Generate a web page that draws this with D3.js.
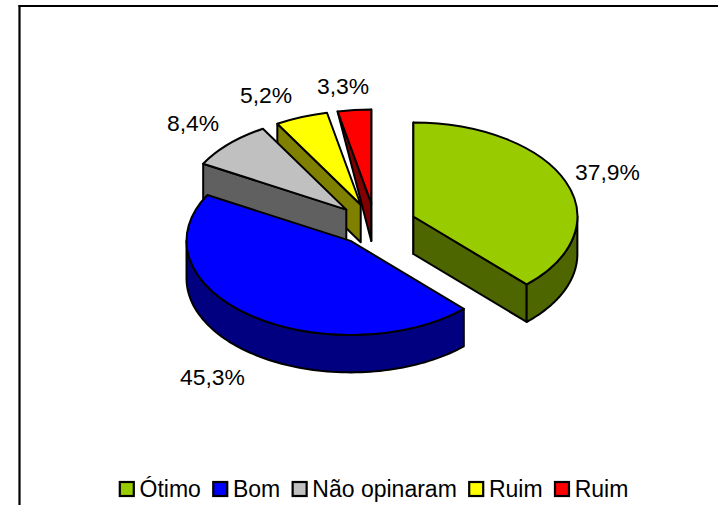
<!DOCTYPE html>
<html>
<head>
<meta charset="utf-8">
<script src="https://cdn.jsdelivr.net/npm/d3@7"></script>
<style>
html,body{margin:0;padding:0;background:#fff;overflow:hidden}
text{font-family:"Liberation Sans",Arial,sans-serif;fill:#000}
</style>
</head>
<body>
<svg id="c" width="718" height="505"></svg>
<script>
const categories = ["Ótimo", "Bom", "Não opinaram", "Ruim", "Ruim"];
const values = [37.9, 45.3, 8.4, 5.2, 3.3];
const topColors = ["#99CC00", "#0000FF", "#C0C0C0", "#FFFF00", "#FF0000"];
const sideColors = ["#4D6600", "#000080", "#606060", "#808000", "#800000"];
const paintOrder = [4, 3, 2, 0, 1];
const rimDrop = [1, 1, 1, 1, 0];
const labelPos = [[575,179.5],[180,385],[167,131],[240,103],[317,94]];

const W = 718, H = 505;
const cx = 375.5, cy = 224.3, rx = 164, ry = 94, depth = 37.5;
const explodeX = 40.8, explodeY = 21;
const sw = 2;

const svg = d3.select("#c");
const fmt = d3.formatLocale({decimal:",",thousands:".",grouping:[3],currency:["",""]}).format(".1f");

// frame (only top and left are inside the picture)
const frame = svg.append("g").attr("stroke","#000").attr("stroke-width",2.2);
frame.append("line").attr("x1",18.5).attr("x2",W).attr("y1",6).attr("y2",6);
frame.append("line").attr("x1",19.5).attr("x2",19.5).attr("y1",5).attr("y2",H);

const arcs = d3.pie().sort(null).value(d => d)(values);
const topArc = d3.arc().innerRadius(0).outerRadius(rx);
const line = d3.line();

arcs.forEach(a => {
  const m = (a.startAngle + a.endAngle) / 2;
  a.ax = cx + explodeX * Math.sin(m);
  a.ay = cy - explodeY * Math.cos(m);
});
const rim = (a, t, drop) => [a.ax + rx * Math.sin(t), a.ay - ry * Math.cos(t) + drop];

const pieG = svg.append("g").attr("stroke","#000").attr("stroke-width",sw).attr("stroke-linejoin","round");

paintOrder.forEach(i => {
  const a = arcs[i];
  const g = pieG.append("g");
  const eps = 1e-6;
  const face = t => {
    const p0 = [a.ax, a.ay], p1 = rim(a, t, 0), p2 = rim(a, t, depth * rimDrop[i]), p3 = [a.ax, a.ay + depth];
    g.append("path").attr("d", line([p0, p1, p2, p3]) + "Z").attr("fill", sideColors[i]);
  };
  if (a.startAngle > Math.PI || a.startAngle < eps) face(a.startAngle);
  if (a.endAngle < Math.PI || a.endAngle > 2 * Math.PI - eps) face(a.endAngle);
  const w0 = Math.max(a.startAngle, Math.PI / 2), w1 = Math.min(a.endAngle, 3 * Math.PI / 2);
  if (w0 < w1) {
    const ts = d3.range(0, 81).map(k => w0 + (w1 - w0) * k / 80);
    const pts = ts.map(t => rim(a, t, 0)).concat(ts.slice().reverse().map(t => rim(a, t, depth)));
    g.append("path").attr("d", line(pts) + "Z").attr("fill", sideColors[i]);
  }
  g.append("path")
    .attr("d", topArc(a))
    .attr("transform", `translate(${a.ax},${a.ay}) scale(1,${ry / rx})`)
    .attr("vector-effect", "non-scaling-stroke")
    .attr("fill", topColors[i]);
});

// data labels
svg.append("g").selectAll("text").data(values).join("text")
  .attr("x", (d,i) => labelPos[i][0]).attr("y", (d,i) => labelPos[i][1])
  .attr("font-size", 22.9)
  .text(d => fmt(d) + "%");

// legend
const legend = svg.append("g");
let lx = 119.8;
categories.forEach((c, i) => {
  legend.append("rect").attr("x", lx).attr("y", 482).attr("width", 14).attr("height", 14)
    .attr("fill", topColors[i]).attr("stroke", "#000").attr("stroke-width", 2.2);
  const t = legend.append("text").attr("x", lx + 19.7).attr("y", 497).attr("font-size", 23).text(c);
  lx += 19.7 + t.node().getComputedTextLength() + 12.4;
});
</script>
</body>
</html>
